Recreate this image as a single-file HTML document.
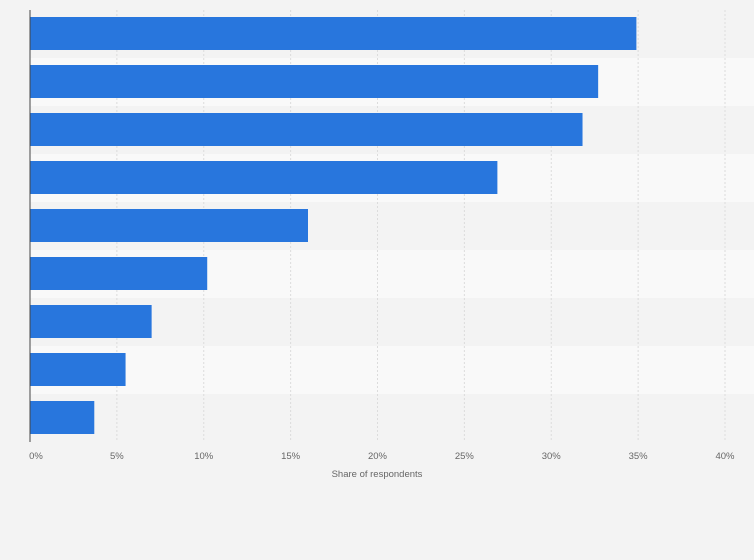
<!DOCTYPE html>
<html><head><meta charset="utf-8"><style>
html,body{margin:0;padding:0;background:#f3f3f3;}
svg{display:block;font-family:"Liberation Sans",sans-serif;}
</style></head><body>
<svg id="chart" width="754" height="560"></svg>
<script>
const categories=["A","B","C","D","E","F","G","H","I"];
const values=[34.9,32.7,31.8,26.9,16.0,10.2,7.0,5.5,3.7];
const ticks=[0,5,10,15,20,25,30,35,40];
const tickLabels=["0%","5%","10%","15%","20%","25%","30%","35%","40%"];
const ns="http://www.w3.org/2000/svg";
const svg=document.getElementById("chart");
const x0=30,x1=725,yTop=10,rowH=48;
const xs=v=>x0+(v/40)*(x1-x0);
function mk(t,a,p){const e=document.createElementNS(ns,t);for(const k in a)e.setAttribute(k,a[k]);(p||svg).appendChild(e);return e;}
categories.forEach((c,i)=>{
 const r=mk("rect",{x:x0,y:yTop+i*rowH,width:754-x0,height:rowH,fill:i%2?"#f9f9f9":"#f3f3f3"});
 
 
});
ticks.forEach((t,i)=>{
 if(t>0){const g=mk("line",{x1:xs(t),x2:xs(t),y1:yTop,y2:yTop+rowH*9,stroke:"#dcdcdc","stroke-dasharray":"2,2"});
 
 }
 const l=mk("text",{x:xs(t)+(t===0?6:0),y:459,"text-anchor":"middle","font-size":"9.5",fill:"#666"});
 l.textContent=tickLabels[i];
 
 
});
values.forEach((v,i)=>{
 const b=mk("rect",{x:x0,y:yTop+i*rowH+7,width:xs(v)-x0,height:33,fill:"#2876dd"});
 
 
});
const ax=mk("line",{x1:x0,x2:x0,y1:yTop,y2:yTop+rowH*9,stroke:"#444","stroke-width":1});


const tt=mk("text",{x:377,y:477,"text-anchor":"middle","font-size":"9.5",fill:"#666"});
tt.textContent="Share of respondents";


</script>
</body></html>
